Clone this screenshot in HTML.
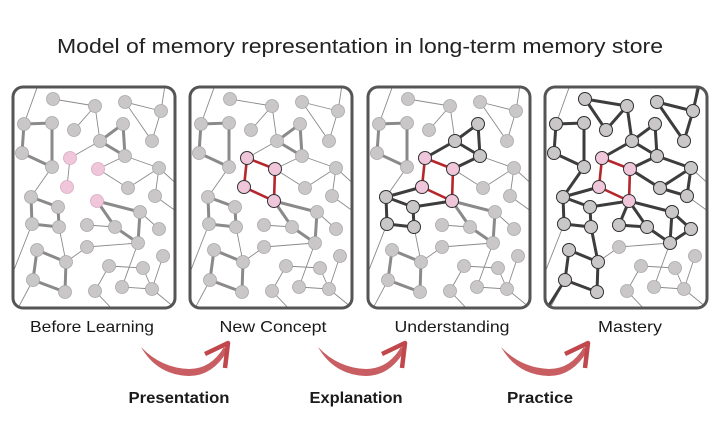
<!DOCTYPE html>
<html><head><meta charset="utf-8"><style>
html,body{margin:0;padding:0;background:#fff;}
svg{display:block;}
text{font-family:"Liberation Sans",sans-serif;fill:#1a1a1a;}
</style></head><body>
<svg width="720" height="444" viewBox="0 0 720 444" xmlns="http://www.w3.org/2000/svg">
<defs>
<clipPath id="pc"><rect x="13" y="87" width="162" height="221" rx="10"/></clipPath>
<g id="thin" stroke="#8a8a8a" stroke-width="0.9" fill="none">
<path d="M53 99L95 106M95 106L74 130M95 106L100 141M125 102L152 141M125 102L161 111M161 111L152 141M161 111L165 85M100 141L70 158M70 158L67 187M98 169L125 156M98 169L128 188M125 156L159 168M128 188L159 168M159 168L155 196M159 168L180 187M52 167L31 197M24 124L38 85M140 212L159 229M155 196L180 214M87 225L115 227M138 243L122 287M138 243L87 247M87 247L66 262M59 227L66 262M109 266L143 268M143 268L152 289M109 266L95 291M122 287L152 289M152 289L163 256M95 291L115 312M33 280L16 312M152 289L180 312M32 224L10 280"/>
</g>
<g id="thickg" stroke="#8a8a8a" stroke-width="3" fill="none">
<path d="M24 124L52 123L52 167L22 153Z"/>
<path d="M37 250L66 262L65 292L33 280Z"/>
</g>
<g id="nodes" fill="#c9c7c7" stroke="#a9a7a7" stroke-width="0.8">
<circle cx="53" cy="99" r="6.5"/><circle cx="95" cy="106" r="6.5"/><circle cx="125" cy="102" r="6.5"/><circle cx="161" cy="111" r="6.5"/>
<circle cx="24" cy="124" r="6.5"/><circle cx="52" cy="123" r="6.5"/><circle cx="74" cy="130" r="6.5"/><circle cx="123" cy="124" r="6.5"/>
<circle cx="100" cy="141" r="6.5"/><circle cx="152" cy="141" r="6.5"/><circle cx="22" cy="153" r="6.5"/><circle cx="125" cy="156" r="6.5"/>
<circle cx="52" cy="167" r="6.5"/><circle cx="159" cy="168" r="6.5"/><circle cx="128" cy="188" r="6.5"/>
<circle cx="31" cy="197" r="6.5"/><circle cx="155" cy="196" r="6.5"/><circle cx="58" cy="207" r="6.5"/><circle cx="140" cy="212" r="6.5"/>
<circle cx="32" cy="224" r="6.5"/><circle cx="59" cy="227" r="6.5"/><circle cx="87" cy="225" r="6.5"/><circle cx="115" cy="227" r="6.5"/>
<circle cx="159" cy="229" r="6.5"/><circle cx="138" cy="243" r="6.5"/><circle cx="87" cy="247" r="6.5"/><circle cx="37" cy="250" r="6.5"/>
<circle cx="163" cy="256" r="6.5"/><circle cx="66" cy="262" r="6.5"/><circle cx="109" cy="266" r="6.5"/><circle cx="143" cy="268" r="6.5"/>
<circle cx="33" cy="280" r="6.5"/><circle cx="122" cy="287" r="6.5"/><circle cx="95" cy="291" r="6.5"/><circle cx="152" cy="289" r="6.5"/><circle cx="65" cy="292" r="6.5"/>
</g>
<g id="pink" fill="#f0c6db" stroke="#d9a9c2" stroke-width="0.8">
<circle cx="70" cy="158" r="6.5"/><circle cx="98" cy="169" r="6.5"/><circle cx="67" cy="187" r="6.5"/><circle cx="97" cy="201" r="6.5"/>
</g>
<g id="pinkd" fill="#f0c6db" stroke="#333" stroke-width="1">
<circle cx="70" cy="158" r="6.5"/><circle cx="98" cy="169" r="6.5"/><circle cx="67" cy="187" r="6.5"/><circle cx="97" cy="201" r="6.5"/>
</g>
<path id="red" d="M70 158L98 169L97 201L67 187Z" stroke="#b5272d" stroke-width="2.6" fill="none"/>
<g id="arrow">
<path d="M0 5 Q16 33 48 34 Q72 34 87 8 L83 5 Q70 27 48 27 Q20 26 0 5 Z" fill="#c85e62"/>
<path d="M64 12 L87 1 L84 26" stroke="#c0474c" stroke-width="4.5" fill="none" stroke-linejoin="round"/>
</g>
</defs>

<text x="360" y="53" text-anchor="middle" font-size="20" textLength="606" lengthAdjust="spacingAndGlyphs" style="fill:#222">Model of memory representation in long-term memory store</text>

<g>
<g clip-path="url(#pc)"><use href="#thin"/></g>
<use href="#thickg"/>
<g stroke="#8a8a8a" stroke-width="3" fill="none"><path d="M123 124L100 141L125 156Z M31 197L58 207L59 227L32 224Z M97 201L140 212L138 243L115 227Z"/></g>
<use href="#nodes"/><use href="#pink"/>
<rect x="13" y="87" width="162" height="221" rx="10" fill="none" stroke="#555" stroke-width="3"/>
</g>

<g transform="translate(177,0)">
<g clip-path="url(#pc)"><use href="#thin"/></g>
<use href="#thickg"/>
<g stroke="#8a8a8a" stroke-width="3" fill="none"><path d="M123 124L100 141L125 156Z M31 197L58 207L59 227L32 224Z M97 201L140 212L138 243L115 227Z"/></g>
<use href="#red"/>
<use href="#nodes"/><use href="#pinkd"/>
<rect x="13" y="87" width="162" height="221" rx="10" fill="none" stroke="#555" stroke-width="3"/>
</g>

<g transform="translate(355,0)">
<g clip-path="url(#pc)"><use href="#thin"/></g>
<use href="#thickg"/>
<g stroke="#8a8a8a" stroke-width="3" fill="none"><path d="M97 201L140 212L138 243L115 227Z"/></g>
<g stroke="#3d3d3d" stroke-width="3" fill="none" stroke-linejoin="round"><path d="M123 124L100 141L125 156Z M100 141L70 158 M125 156L98 169 M67 187L31 197 M31 197L58 207L59 227L32 224Z M58 207L97 201"/></g>
<use href="#red"/>
<use href="#nodes"/>
<g fill="#c9c7c7" stroke="#333" stroke-width="1">
<circle cx="123" cy="124" r="6.5"/><circle cx="100" cy="141" r="6.5"/><circle cx="125" cy="156" r="6.5"/><circle cx="31" cy="197" r="6.5"/><circle cx="58" cy="207" r="6.5"/><circle cx="59" cy="227" r="6.5"/><circle cx="32" cy="224" r="6.5"/>
</g>
<use href="#pinkd"/>
<rect x="13" y="87" width="162" height="221" rx="10" fill="none" stroke="#555" stroke-width="3"/>
</g>

<g transform="translate(532,0)">
<g clip-path="url(#pc)"><use href="#thin"/>
<path d="M161 111L167 85 M33 280L14 310" stroke="#3d3d3d" stroke-width="3"/></g>
<g stroke="#3d3d3d" stroke-width="3" fill="none" stroke-linejoin="round">
<path d="M53 99L95 106L74 130Z M125 102L161 111L152 141Z M24 124L52 123L52 167L22 153Z M52 167L31 197 M95 106L100 141 M123 124L100 141L125 156Z M100 141L70 158 M125 156L98 169 M125 156L159 168 M98 169L128 188L159 168L155 196 M128 188L155 196 M67 187L31 197 M31 197L58 207L59 227L32 224Z M58 207L97 201 M97 201L87 225L115 227 M97 201L140 212L138 243L115 227Z M97 201L115 227 M140 212L159 229L138 243 M59 227L66 262 M37 250L66 262L65 292L33 280Z"/>
</g>
<use href="#red"/>
<use href="#nodes"/>
<g fill="#c9c7c7" stroke="#333" stroke-width="1">
<circle cx="53" cy="99" r="6.5"/><circle cx="95" cy="106" r="6.5"/><circle cx="125" cy="102" r="6.5"/><circle cx="161" cy="111" r="6.5"/>
<circle cx="24" cy="124" r="6.5"/><circle cx="52" cy="123" r="6.5"/><circle cx="74" cy="130" r="6.5"/><circle cx="123" cy="124" r="6.5"/>
<circle cx="100" cy="141" r="6.5"/><circle cx="152" cy="141" r="6.5"/><circle cx="22" cy="153" r="6.5"/><circle cx="125" cy="156" r="6.5"/>
<circle cx="52" cy="167" r="6.5"/><circle cx="159" cy="168" r="6.5"/><circle cx="128" cy="188" r="6.5"/>
<circle cx="31" cy="197" r="6.5"/><circle cx="155" cy="196" r="6.5"/><circle cx="58" cy="207" r="6.5"/><circle cx="140" cy="212" r="6.5"/>
<circle cx="32" cy="224" r="6.5"/><circle cx="59" cy="227" r="6.5"/><circle cx="87" cy="225" r="6.5"/><circle cx="115" cy="227" r="6.5"/>
<circle cx="159" cy="229" r="6.5"/><circle cx="138" cy="243" r="6.5"/><circle cx="37" cy="250" r="6.5"/>
<circle cx="66" cy="262" r="6.5"/><circle cx="33" cy="280" r="6.5"/><circle cx="65" cy="292" r="6.5"/>
</g>
<use href="#pinkd"/>
<rect x="13" y="87" width="162" height="221" rx="10" fill="none" stroke="#555" stroke-width="3"/>
</g>

<g font-size="16">
<text x="92" y="332" text-anchor="middle" textLength="124" lengthAdjust="spacingAndGlyphs">Before Learning</text>
<text x="273" y="332" text-anchor="middle" textLength="107" lengthAdjust="spacingAndGlyphs">New Concept</text>
<text x="452" y="332" text-anchor="middle" textLength="115" lengthAdjust="spacingAndGlyphs">Understanding</text>
<text x="630" y="332" text-anchor="middle" textLength="64" lengthAdjust="spacingAndGlyphs">Mastery</text>
</g>
<g font-size="16" font-weight="bold">
<text x="179" y="403" text-anchor="middle" textLength="101" lengthAdjust="spacingAndGlyphs">Presentation</text>
<text x="356" y="403" text-anchor="middle" textLength="93" lengthAdjust="spacingAndGlyphs">Explanation</text>
<text x="540" y="403" text-anchor="middle" textLength="66" lengthAdjust="spacingAndGlyphs">Practice</text>
</g>

<use href="#arrow" transform="translate(141,342)"/>
<use href="#arrow" transform="translate(318,342)"/>
<use href="#arrow" transform="translate(501,342)"/>
</svg>
</body></html>
